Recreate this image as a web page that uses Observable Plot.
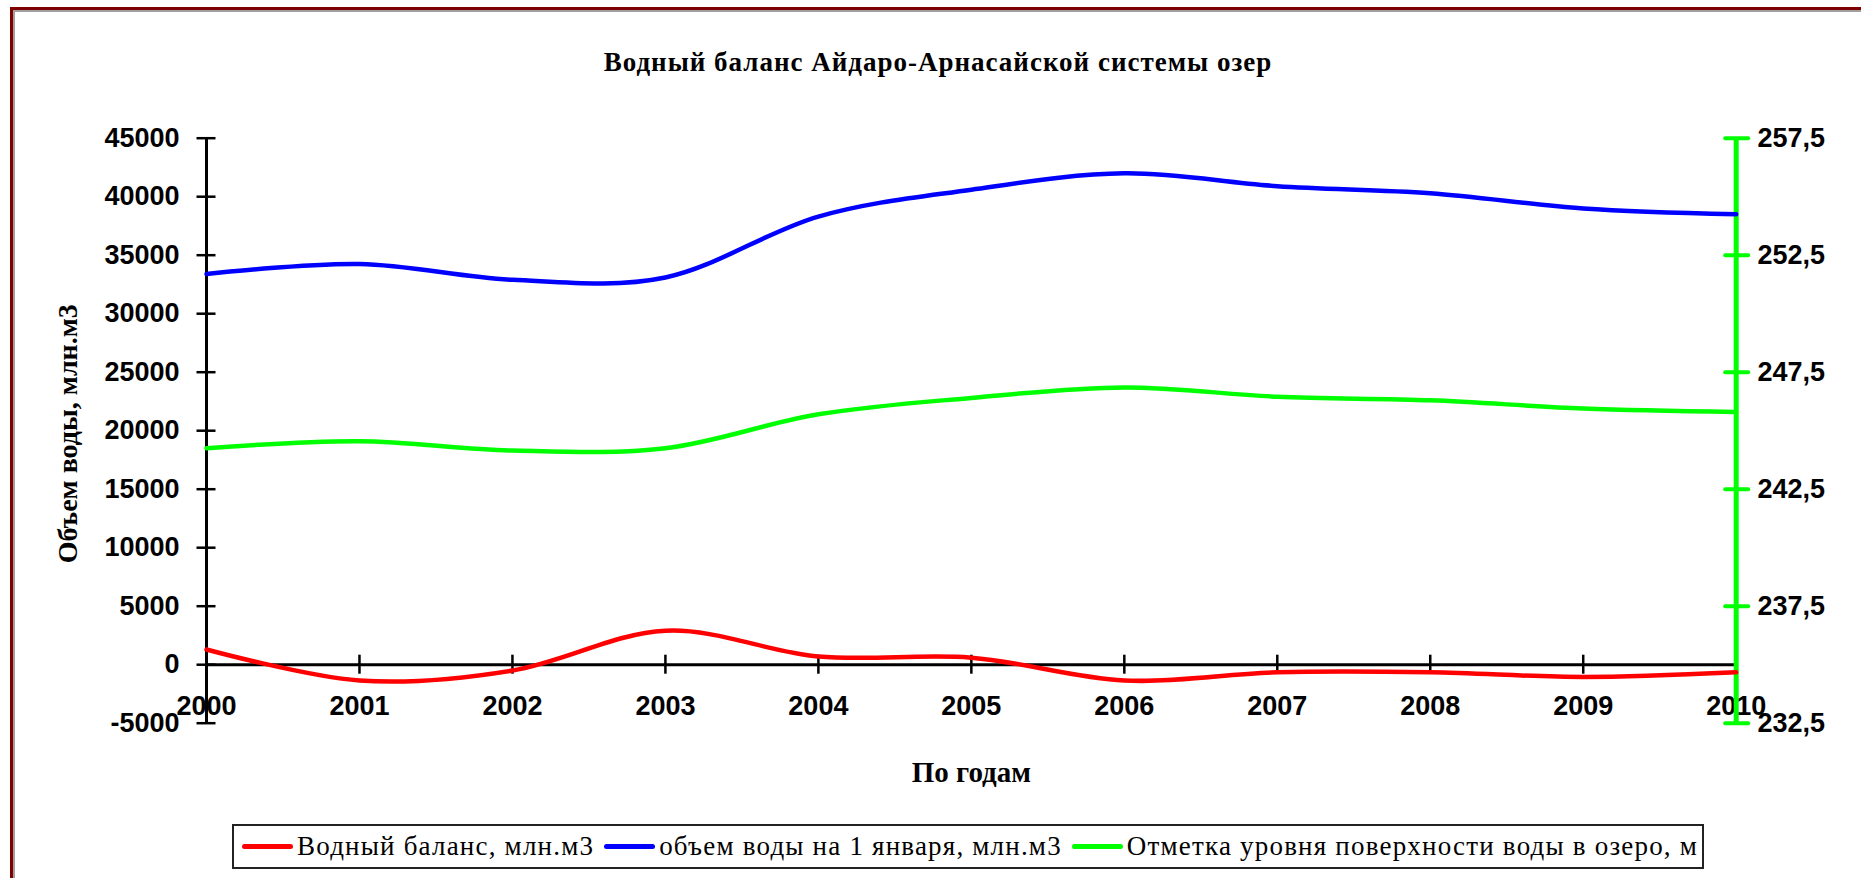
<!DOCTYPE html>
<html>
<head>
<meta charset="utf-8">
<script src="https://cdn.jsdelivr.net/npm/d3@7"></script>
<script src="https://cdn.jsdelivr.net/npm/@observablehq/plot@0.6"></script>
<style>
  html, body { margin: 0; padding: 0; background: #fff; width: 1861px; height: 878px; overflow: hidden; }
  #frame { position: absolute; left: 10px; top: 7px; width: 2000px; height: 2000px; border: 3px solid #800000; box-shadow: inset 2px 2px 0 #a0a0a0; pointer-events: none; }
  #title { height: 100px; box-sizing: border-box; padding-top: 45px; padding-left: 15px; text-align: center;
           font: bold 27px "Liberation Serif", "Times New Roman", serif; letter-spacing: 1px; line-height: 34px; color: #000; }
  #chart { height: 700px; }
  #chart svg { display: block; }
  #legend { margin-top: 24px; margin-left: 232px; display: inline-flex; align-items: center; height: 45px; box-sizing: border-box;
            border: 2px solid #222; padding: 0 4px 0 8px; font: 27px "Liberation Serif", "Times New Roman", serif; letter-spacing: 1.2px;
            color: #000; white-space: nowrap; }
  .sw { display: inline-block; width: 51px; height: 5px; border-radius: 3px; margin: 0 4px 0 0; }
  .item { display: inline-flex; align-items: center; margin-right: 10px; }
  .item:last-child { margin-right: 0; }
</style>
</head>
<body>
<div id="frame"></div>
<div id="title"></div>
<div id="chart"></div>
<div id="legend"></div>
<script>
// ---- data ----
const titleText = "Водный баланс Айдаро-Арнасайской системы озер";
const xLabel = "По годам";
const yLabel = "Объем воды, млн.м3";
const years = [2000, 2001, 2002, 2003, 2004, 2005, 2006, 2007, 2008, 2009, 2010];
const waterBalance = [1300, -1350, -500, 2900, 700, 600, -1350, -650, -650, -1050, -650];
const waterVolume = [33400, 34250, 32900, 33100, 38300, 40600, 42000, 40900, 40300, 39000, 38500];
const waterLevel = [244.25, 244.55, 244.15, 244.25, 245.7, 246.4, 246.85, 246.45, 246.3, 245.95, 245.8];
const leftTicks = [-5000, 0, 5000, 10000, 15000, 20000, 25000, 30000, 35000, 40000, 45000];
const rightTicks = [232.5, 237.5, 242.5, 247.5, 252.5, 257.5];
const rightTickLabels = ["232,5", "237,5", "242,5", "247,5", "252,5", "257,5"];
const seriesNames = ["Водный баланс, млн.м3", "объем воды на 1 января, млн.м3", "Отметка уровня поверхности воды в озеро, м"];
const seriesColors = ["#ff0000", "#0000ff", "#00ff00"];

// right (level) axis shares the plot height with the left axis
const leftMin = -5000, leftMax = 45000, rightMin = 232.5, rightMax = 257.5;
const toLeft = v => leftMin + (v - rightMin) * (leftMax - leftMin) / (rightMax - rightMin);

const rows = years.map((year, i) => ({
  year, balance: waterBalance[i], volume: waterVolume[i], level: toLeft(waterLevel[i])
}));

document.getElementById("title").textContent = titleText;

const sans = "'Liberation Sans', Arial, sans-serif";
const serif = "'Liberation Serif', 'Times New Roman', serif";
const lineOpts = { x: "year", curve: "cardinal", tension: 0, strokeWidth: 4.5 };

const chart = Plot.plot({
  width: 1861, height: 700,
  marginLeft: 206, marginRight: 125.3, marginTop: 37.7, marginBottom: 77.3,
  style: { fontFamily: sans, fontSize: "27px", color: "#000", background: "transparent", overflow: "visible" },
  x: { domain: [years[0], years[years.length - 1]] },
  y: { domain: [leftMin, leftMax] },
  marks: [
    Plot.ruleY([0], { stroke: "#000", strokeWidth: 3 }),
    Plot.ruleX(years.slice(1, -1), { x: d => d, y1: 0, y2: 0, insetTop: -9.5, insetBottom: -9.5, stroke: "#000", strokeWidth: 2.5 }),
    Plot.axisX(years, { anchor: "bottom", tickSize: 0, tickPadding: 0, dy: -27.3, label: null,
      tickFormat: d => String(d), fontSize: 27, fontWeight: "bold" }),
    Plot.ruleX([years[0]], { stroke: "#000", strokeWidth: 3 }),
    Plot.axisY(leftTicks, { anchor: "left", tickSize: 19, dx: 9.5, tickPadding: 17.5, strokeWidth: 2.5, label: null,
      tickFormat: d => String(d), fontSize: 27, fontWeight: "bold" }),
    Plot.ruleX([years[years.length - 1]], { stroke: "#00ff00", strokeWidth: 5 }),
    Plot.axisY(rightTicks.map(toLeft), { anchor: "right", tickSize: 23, dx: -11.5, tickPadding: 9.8, label: null,
      stroke: "#00ff00", fill: "#000", strokeWidth: 4, strokeLinecap: "round",
      tickFormat: d => rightTickLabels[rightTicks.findIndex(t => Math.abs(toLeft(t) - d) < 1e-6)],
      fontSize: 27, fontWeight: "bold" }),
    Plot.line(rows, { ...lineOpts, y: "level", stroke: seriesColors[2] }),
    Plot.line(rows, { ...lineOpts, y: "volume", stroke: seriesColors[1] }),
    Plot.line(rows, { ...lineOpts, y: "balance", stroke: seriesColors[0] }),
    Plot.text([xLabel], { text: d => d, frameAnchor: "bottom", dy: 59, fontFamily: serif, fontWeight: "bold", fontSize: 29 }),
    Plot.text([yLabel], { text: d => d, frameAnchor: "left", textAnchor: "middle", rotate: -90, dx: -138, dy: 3,
      fontFamily: serif, fontWeight: "bold", fontSize: 28 })
  ]
});
document.getElementById("chart").appendChild(chart);

const legend = d3.select("#legend");
seriesNames.forEach((name, i) => {
  const item = legend.append("span").attr("class", "item");
  item.append("span").attr("class", "sw").style("background", seriesColors[i]);
  item.append("span").text(name);
});
</script>
</body>
</html>
